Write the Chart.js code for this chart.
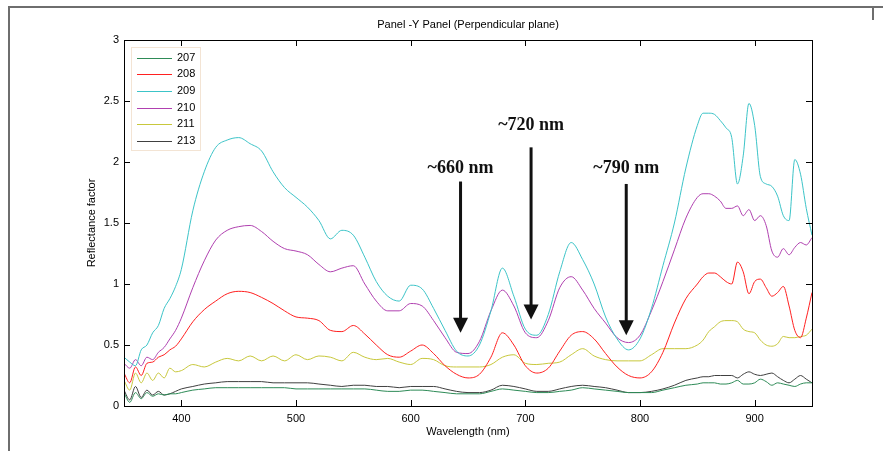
<!DOCTYPE html>
<html>
<head>
<meta charset="utf-8">
<script src="https://cdn.jsdelivr.net/npm/chart.js@4.4.1/dist/chart.umd.min.js"></script>
<style>
  html, body { margin: 0; padding: 0; background: #fff; }
  #wrap { width: 883px; height: 451px; position: relative; }
</style>
</head>
<body>
<div id="wrap"><canvas id="c" width="883" height="451"></canvas></div>
<script>
// wavelength grid (nm)
const wavelengths = [350,355,360,365,370,375,380,385,390,395,400,
  410,420,430,440,450,460,470,480,490,500,
  510,520,530,540,550,560,570,580,590,600,
  610,620,630,640,650,660,670,680,690,700,
  710,720,730,740,750,760,770,780,790,800,
  810,820,830,840,850,
  855,860,865,870,875,880,885,890,895,900,
  905,910,915,920,925,930,935,940,945,950];

const s207 = [0.11,0.03,0.11,0.06,0.11,0.08,0.10,0.09,0.10,0.10,0.11,
  0.13,0.14,0.15,0.15,0.15,0.15,0.15,0.15,0.15,0.14,
  0.14,0.14,0.14,0.14,0.14,0.14,0.13,0.12,0.12,0.13,
  0.13,0.12,0.11,0.10,0.10,0.10,0.12,0.14,0.13,0.12,
  0.11,0.11,0.12,0.13,0.15,0.14,0.13,0.12,0.11,0.11,
  0.11,0.13,0.15,0.17,0.18,
  0.19,0.19,0.19,0.18,0.18,0.19,0.21,0.18,0.18,0.19,
  0.22,0.20,0.17,0.19,0.18,0.17,0.16,0.18,0.19,0.19];

const s208 = [0.27,0.19,0.32,0.25,0.35,0.36,0.40,0.42,0.46,0.49,0.55,
  0.69,0.79,0.86,0.92,0.94,0.93,0.89,0.84,0.78,0.73,
  0.72,0.70,0.62,0.61,0.66,0.59,0.50,0.42,0.40,0.45,
  0.50,0.43,0.33,0.26,0.23,0.26,0.40,0.60,0.50,0.33,
  0.27,0.31,0.45,0.58,0.61,0.55,0.43,0.32,0.25,0.23,
  0.28,0.44,0.68,0.88,1.00,
  1.06,1.09,1.09,1.06,1.02,1.00,1.18,1.10,0.92,1.02,
  1.04,0.97,0.90,0.93,0.98,0.82,0.62,0.56,0.72,0.93];

const s209 = [0.40,0.36,0.33,0.46,0.50,0.60,0.66,0.80,0.88,0.98,1.12,
  1.60,1.92,2.12,2.18,2.20,2.15,2.09,1.92,1.79,1.71,
  1.63,1.52,1.37,1.44,1.40,1.22,1.02,0.90,0.86,0.99,
  0.96,0.80,0.62,0.45,0.41,0.50,0.78,1.13,0.90,0.63,
  0.58,0.75,1.10,1.34,1.20,1.00,0.73,0.55,0.46,0.55,
  0.80,1.15,1.50,1.95,2.30,
  2.40,2.40,2.39,2.34,2.28,2.20,1.82,2.05,2.48,2.30,
  1.88,1.82,1.80,1.72,1.56,1.52,2.02,1.90,1.62,1.40];

const s210 = [0.35,0.31,0.38,0.33,0.40,0.38,0.44,0.48,0.55,0.62,0.72,
  0.97,1.19,1.36,1.44,1.47,1.48,1.43,1.35,1.29,1.27,
  1.24,1.16,1.10,1.13,1.15,1.00,0.86,0.78,0.78,0.84,
  0.82,0.70,0.56,0.44,0.43,0.53,0.78,0.95,0.82,0.60,
  0.56,0.70,0.97,1.06,0.95,0.80,0.68,0.56,0.52,0.58,
  0.78,1.02,1.28,1.54,1.71,
  1.74,1.74,1.72,1.68,1.62,1.62,1.64,1.56,1.61,1.52,
  1.56,1.48,1.27,1.22,1.29,1.24,1.30,1.34,1.32,1.38];

const s211 = [0.21,0.13,0.27,0.19,0.27,0.21,0.27,0.23,0.31,0.28,0.29,
  0.34,0.32,0.36,0.39,0.37,0.41,0.37,0.41,0.37,0.42,
  0.38,0.41,0.40,0.37,0.44,0.40,0.38,0.39,0.36,0.34,
  0.39,0.38,0.33,0.32,0.32,0.32,0.34,0.40,0.42,0.35,
  0.34,0.35,0.36,0.42,0.47,0.41,0.38,0.37,0.37,0.37,
  0.42,0.47,0.47,0.47,0.50,
  0.54,0.61,0.65,0.69,0.70,0.70,0.69,0.63,0.61,0.60,
  0.54,0.50,0.49,0.51,0.57,0.56,0.56,0.57,0.58,0.63];

const s213 = [0.13,0.05,0.16,0.07,0.13,0.09,0.12,0.09,0.10,0.12,0.14,
  0.16,0.18,0.19,0.20,0.20,0.20,0.20,0.19,0.19,0.19,
  0.19,0.18,0.17,0.16,0.17,0.17,0.16,0.16,0.15,0.16,
  0.16,0.16,0.14,0.12,0.11,0.11,0.13,0.17,0.16,0.14,
  0.12,0.12,0.14,0.16,0.17,0.16,0.15,0.13,0.11,0.11,
  0.12,0.14,0.17,0.21,0.23,
  0.24,0.24,0.25,0.25,0.25,0.25,0.23,0.26,0.28,0.26,
  0.25,0.26,0.27,0.24,0.21,0.19,0.22,0.25,0.22,0.19];

const seriesNames = ['207', '208', '209', '210', '211', '213'];
const seriesValues = [s207, s208, s209, s210, s211, s213];
const seriesColors = ['#2e8b57', '#ff2020', '#3cc4c8', '#b040b0', '#c8c83c', '#404040'];

const xTickValues = [400, 500, 600, 700, 800, 900];
const yTickValues = [0, 0.5, 1, 1.5, 2, 2.5, 3];

// arrow annotations (wavelength, arrow top, arrow tip, label y)
const arrowLabels = ['~660 nm', '~720 nm', '~790 nm'];
const arrowX = [643.5, 705, 788];
const arrowTop = [1.84, 2.12, 1.82];
const arrowTip = [0.60, 0.71, 0.58];
const labelY = [1.95, 2.30, 1.95];

const font11 = { family: 'Liberation Sans, Arial, sans-serif', size: 11 };

const decor = {
  id: 'decor',
  beforeDraw(chart) {
    const ctx = chart.ctx;
    ctx.save();
    ctx.fillStyle = '#fff';
    ctx.fillRect(0, 0, chart.width, chart.height);
    ctx.strokeStyle = '#6e6e6e';
    ctx.lineWidth = 2;
    ctx.beginPath();
    ctx.moveTo(9, chart.height);
    ctx.lineTo(9, 7);
    ctx.lineTo(chart.width, 7);
    ctx.moveTo(873, 7);
    ctx.lineTo(873, 20);
    ctx.stroke();
    ctx.restore();
  },
  afterDraw(chart) {
    const { ctx, chartArea: a, scales: { x, y } } = chart;
    ctx.save();
    ctx.strokeStyle = '#000';
    ctx.lineWidth = 1;
    ctx.strokeRect(a.left + 0.5, a.top + 0.5, a.width, a.height);
    ctx.beginPath();
    x.ticks.forEach(t => {
      const px = Math.round(x.getPixelForValue(t.value)) + 0.5;
      ctx.moveTo(px, a.bottom); ctx.lineTo(px, a.bottom - 6);
      ctx.moveTo(px, a.top); ctx.lineTo(px, a.top + 6);
    });
    y.ticks.forEach(t => {
      const py = Math.round(y.getPixelForValue(t.value)) + 0.5;
      ctx.moveTo(a.left, py); ctx.lineTo(a.left + 6, py);
      ctx.moveTo(a.right, py); ctx.lineTo(a.right - 6, py);
    });
    ctx.stroke();

    // title
    ctx.fillStyle = '#000';
    ctx.font = '11px Liberation Sans, Arial, sans-serif';
    ctx.textAlign = 'center';
    ctx.textBaseline = 'middle';
    ctx.fillText('Panel -Y Panel (Perpendicular plane)', (a.left + a.right) / 2, 25);

    // legend
    const lx = a.left + 7, ly = a.top + 7;
    ctx.fillStyle = '#fff';
    ctx.fillRect(lx, ly, 69, 103);
    ctx.strokeStyle = '#f3e4d4';
    ctx.strokeRect(lx + 0.5, ly + 0.5, 69, 103);
    chart.data.datasets.forEach((ds, i) => {
      const yy = ly + 10.5 + i * 16.7;
      ctx.strokeStyle = ds.borderColor;
      ctx.lineWidth = 1;
      ctx.beginPath();
      ctx.moveTo(lx + 6, Math.round(yy) + 0.5);
      ctx.lineTo(lx + 41, Math.round(yy) + 0.5);
      ctx.stroke();
      ctx.fillStyle = '#000';
      ctx.textAlign = 'left';
      ctx.fillText(ds.label, lx + 46, yy);
    });

    // arrows with labels
    ctx.font = 'bold 18px Liberation Serif, Times New Roman, serif';
    arrowLabels.forEach((txt, i) => {
      const px = x.getPixelForValue(arrowX[i]);
      const top = y.getPixelForValue(arrowTop[i]);
      const tip = y.getPixelForValue(arrowTip[i]);
      ctx.strokeStyle = '#111';
      ctx.lineWidth = 3;
      ctx.beginPath();
      ctx.moveTo(px, top);
      ctx.lineTo(px, tip - 12);
      ctx.stroke();
      ctx.fillStyle = '#111';
      ctx.beginPath();
      ctx.moveTo(px - 7.5, tip - 15);
      ctx.lineTo(px + 7.5, tip - 15);
      ctx.lineTo(px, tip);
      ctx.closePath();
      ctx.fill();
      ctx.textAlign = 'center';
      ctx.fillText(txt, px, y.getPixelForValue(labelY[i]));
    });
    ctx.restore();
  }
};

const datasets = seriesNames.map((name, i) => ({
  label: name,
  data: wavelengths.map((w, j) => ({ x: w, y: seriesValues[i][j] })),
  borderColor: seriesColors[i],
  borderWidth: 1,
  pointRadius: 0,
  fill: false,
  cubicInterpolationMode: 'monotone'
}));

new Chart(document.getElementById('c'), {
  type: 'line',
  data: { datasets },
  options: {
    responsive: false,
    animation: false,
    devicePixelRatio: 1,
    layout: { padding: { left: 0, right: 71, top: 40, bottom: 0 } },
    plugins: { legend: { display: false }, title: { display: false }, tooltip: { enabled: false } },
    scales: {
      x: {
        type: 'linear',
        min: 350,
        max: 950,
        grid: { display: false, drawTicks: false },
        border: { display: false },
        afterBuildTicks: s => { s.ticks = xTickValues.map(v => ({ value: v })); },
        afterFit: s => { s.height = 45; },
        ticks: { font: font11, color: '#000', padding: 6, maxRotation: 0, autoSkip: false, callback: v => String(v) },
        title: { display: true, text: 'Wavelength (nm)', font: font11, color: '#000', padding: { top: 0, bottom: 12 } }
      },
      y: {
        min: 0,
        max: 3,
        grid: { display: false, drawTicks: false },
        border: { display: false },
        afterBuildTicks: s => { s.ticks = yTickValues.map(v => ({ value: v })); },
        afterFit: s => { s.width = 124; },
        ticks: { font: font11, color: '#000', padding: 5, autoSkip: false, callback: v => String(v) },
        title: { display: true, text: 'Reflectance factor', font: font11, color: '#000', padding: { top: 85, bottom: 0 } }
      }
    }
  },
  plugins: [decor]
});
</script>
</body>
</html>
